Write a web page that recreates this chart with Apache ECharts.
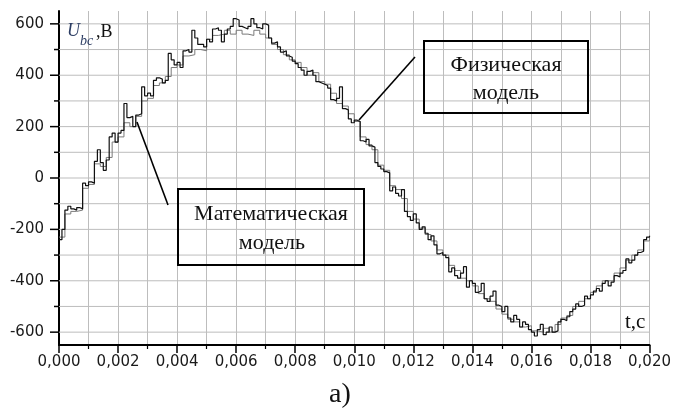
<!DOCTYPE html>
<html>
<head>
<meta charset="utf-8">
<script src="https://cdn.jsdelivr.net/npm/echarts/dist/echarts.min.js"></script>
<style>
html,body{margin:0;padding:0;background:#fff;}
#chart{width:674px;height:412px;}
</style>
</head>
<body>
<div id="chart"></div>
<script>
// Time sampling of each trace (s)
const T_STEP_PHYS = 0.0001;
const T_STEP_MATH = 0.0002;

// Physical model (black staircase), U_bc in V, sampled every 0.0001 s from t = 0
const physValues = [
  -240,-200,-125,-110,-120,-125,-115,-120,-20,-30,
  -15,-20,65,110,60,30,70,160,175,140,
  175,185,290,235,240,200,245,250,355,320,
  330,320,380,390,385,370,380,485,460,440,
  450,430,495,500,490,575,545,520,520,510,
  540,530,580,585,575,530,560,580,590,620,
  615,590,585,580,590,620,600,585,580,600,
  595,545,525,530,510,490,495,475,470,455,
  445,430,420,400,415,420,400,375,370,365,
  360,350,305,300,310,355,270,265,230,215,
  225,220,145,140,150,125,120,60,45,35,
  25,20,-50,-35,-60,-70,-45,-130,-150,-165,
  -140,-175,-200,-190,-215,-240,-225,-260,-295,-290,
  -300,-310,-365,-350,-380,-390,-370,-345,-425,-400,
  -410,-445,-440,-410,-470,-480,-460,-440,-495,-500,
  -520,-500,-545,-560,-535,-550,-580,-560,-570,-590,
  -600,-615,-590,-570,-610,-600,-580,-600,-595,-560,
  -550,-555,-540,-520,-510,-490,-500,-495,-460,-470,
  -455,-440,-430,-440,-410,-400,-420,-405,-380,-385,
  -370,-360,-315,-330,-320,-300,-290,-285,-240,-230,
  -225
];

// Mathematical model (grey staircase), sampled every 0.0002 s from t = 0
const mathValues = [
  -230,-140,-130,-125,-40,-25,55,45,80,140,
  160,215,200,240,300,310,360,370,395,430,
  440,475,480,500,495,540,555,560,575,560,
  575,560,555,575,560,545,520,500,480,460,
  450,430,400,410,375,365,330,290,280,250,
  220,160,130,110,50,30,-30,-45,-80,-130,
  -160,-195,-220,-245,-280,-300,-340,-360,-390,-400,
  -420,-450,-470,-480,-510,-530,-550,-560,-580,-575,
  -595,-600,-585,-600,-570,-545,-535,-500,-480,-470,
  -445,-420,-400,-400,-370,-350,-320,-300,-280,-245,
  -230
];

// Axis settings
const X_MIN = 0, X_MAX = 0.020, X_INTERVAL = 0.002;
const Y_MIN = -650, Y_MAX = 650;
const yGridValues = [-600,-500,-400,-300,-200,-100,0,100,200,300,400,500,600];
const yLabelValues = [-600,-400,-200,0,200,400,600];

const physData = physValues.map((v, i) => [+(i * T_STEP_PHYS).toFixed(5), v]);
const mathData = mathValues.map((v, i) => [+(i * T_STEP_MATH).toFixed(5), v]);

const GRID_COLOR = '#bdbdbd';
const chart = echarts.init(document.getElementById('chart'), null, {renderer: 'canvas'});

const option = {
  animation: false,
  backgroundColor: '#fff',
  grid: {left: 59, right: 22, top: 11, bottom: 67, containLabel: false},
  xAxis: {
    type: 'value', min: X_MIN, max: X_MAX, interval: X_INTERVAL,
    axisLine: {show: true, onZero: false, lineStyle: {color: '#000', width: 2}},
    axisTick: {show: true, length: 8, lineStyle: {color: '#000', width: 1.5}},
    minorTick: {show: true, splitNumber: 2, length: 4, lineStyle: {color: '#000', width: 1.2}},
    splitLine: {show: true, lineStyle: {color: GRID_COLOR, width: 1}},
    minorSplitLine: {show: true, lineStyle: {color: GRID_COLOR, width: 1}},
    axisLabel: {
      margin: 10, color: '#1a1a1a', fontFamily: 'DejaVu Sans', fontSize: 15,
      formatter: v => v.toFixed(3).replace('.', ',')
    }
  },
  yAxis: {
    type: 'value', min: Y_MIN, max: Y_MAX, interval: 50,
    axisLine: {show: true, onZero: false, lineStyle: {color: '#000', width: 2}},
    axisTick: {show: false},
    splitLine: {show: false},
    axisLabel: {
      margin: 15, color: '#1a1a1a', fontFamily: 'DejaVu Sans', fontSize: 15,
      formatter: v => (yLabelValues.indexOf(v) >= 0 ? String(v) : '')
    }
  },
  series: [
    {
      type: 'custom', z: 1, silent: true, clip: false,
      data: yGridValues.map(v => [X_MIN, v]),
      renderItem: function (params, api) {
        const v = api.value(1);
        const a = api.coord([X_MIN, v]);
        const b = api.coord([X_MAX, v]);
        const major = yLabelValues.indexOf(v) >= 0;
        return {
          type: 'group',
          children: [
            {type: 'line', shape: {x1: a[0], y1: a[1], x2: b[0], y2: b[1]},
             style: {stroke: GRID_COLOR, lineWidth: 1}},
            {type: 'line', shape: {x1: a[0] - (major ? 9 : 5), y1: a[1], x2: a[0], y2: a[1]},
             style: {stroke: '#000', lineWidth: 1.5}}
          ]
        };
      }
    },
    {
      name: 'Математическая модель', type: 'line', step: 'end', z: 3,
      data: mathData, showSymbol: false, symbol: 'none',
      lineStyle: {color: '#7a7a7a', width: 1}
    },
    {
      name: 'Физическая модель', type: 'line', step: 'end', z: 4,
      data: physData, showSymbol: false, symbol: 'none',
      lineStyle: {color: '#111', width: 1.2}
    }
  ],
  graphic: [
    // Y axis name U_bc ,B
    {type: 'text', z: 10, style: {text: 'U', x: 67, y: 31, font: 'italic 18px "Liberation Serif"', fill: '#2c3d63', verticalAlign: 'middle'}},
    {type: 'text', z: 10, style: {text: 'bc', x: 80, y: 41, font: 'italic 14px "Liberation Serif"', fill: '#2c3d63', verticalAlign: 'middle'}},
    {type: 'text', z: 10, style: {text: ',B', x: 96, y: 32, font: '18px "Liberation Serif"', fill: '#111', verticalAlign: 'middle'}},
    // X axis name
    {type: 'text', z: 10, style: {text: 't,c', x: 625, y: 322, font: '21px "Liberation Serif"', fill: '#111', verticalAlign: 'middle'}},
    // Physical model callout
    {type: 'rect', z: 10, shape: {x: 424, y: 41, width: 164, height: 72}, style: {fill: 'none', stroke: '#000', lineWidth: 2}},
    {type: 'text', z: 10, style: {text: 'Физическая', x: 506, y: 65, font: '22px "Liberation Serif"', fill: '#111', align: 'center', verticalAlign: 'middle'}},
    {type: 'text', z: 10, style: {text: 'модель', x: 506, y: 93, font: '22px "Liberation Serif"', fill: '#111', align: 'center', verticalAlign: 'middle'}},
    {type: 'line', z: 10, shape: {x1: 415, y1: 57, x2: 359, y2: 120}, style: {stroke: '#000', lineWidth: 1.6}},
    // Mathematical model callout
    {type: 'rect', z: 10, shape: {x: 178, y: 189, width: 186, height: 76}, style: {fill: 'none', stroke: '#000', lineWidth: 2}},
    {type: 'text', z: 10, style: {text: 'Математическая', x: 271, y: 214, font: '22px "Liberation Serif"', fill: '#111', align: 'center', verticalAlign: 'middle'}},
    {type: 'text', z: 10, style: {text: 'модель', x: 272, y: 243, font: '22px "Liberation Serif"', fill: '#111', align: 'center', verticalAlign: 'middle'}},
    {type: 'line', z: 10, shape: {x1: 137, y1: 122, x2: 168, y2: 205}, style: {stroke: '#000', lineWidth: 1.6}},
    // Caption
    {type: 'text', z: 10, style: {text: 'а)', x: 329, y: 395, font: '28px "Liberation Serif"', fill: '#111', verticalAlign: 'middle'}}
  ]
};
chart.setOption(option);
</script>
</body>
</html>
